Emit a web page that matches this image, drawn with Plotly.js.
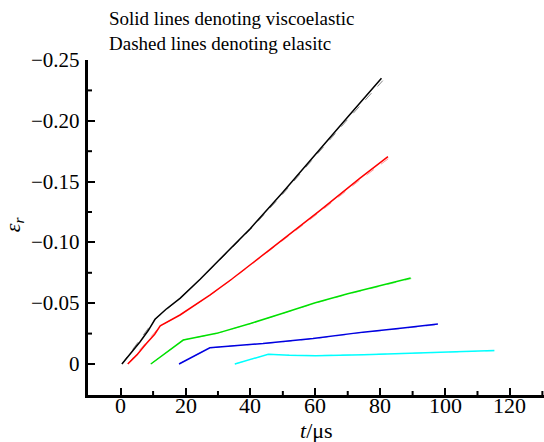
<!DOCTYPE html>
<html>
<head>
<meta charset="utf-8">
<script src="https://cdn.plot.ly/plotly-3.0.1.min.js"></script>
<style>html,body{margin:0;padding:0;background:#fff}#chart{width:544px;height:442px}</style>
</head>
<body>
<div id="chart"></div>
<script>
// Solid (viscoelastic) curves
const blackX = [0.4, 3, 6, 8.5, 10.6, 14, 18.3, 24.5, 30, 40, 50, 60, 70, 80.4];
const blackY = [0, -0.0085, -0.0183, -0.0275, -0.0368, -0.0450, -0.0540, -0.0697, -0.0845, -0.1115, -0.1412, -0.1725, -0.2032, -0.2349];
const redX = [2.2, 5, 8, 10.5, 12.2, 18.3, 27.5, 34.2, 45, 55, 61.4, 73.7, 82.4];
const redY = [0, -0.0075, -0.0170, -0.0245, -0.0313, -0.0403, -0.0567, -0.0697, -0.0920, -0.1128, -0.1261, -0.1527, -0.1705];
const greenX = [9.3, 19.3, 29.6, 40, 50, 60, 70, 80, 89.4];
const greenY = [0, -0.0197, -0.0252, -0.0333, -0.0418, -0.0503, -0.0578, -0.0643, -0.0707];
const blueX = [18, 27.5, 35, 43.9, 59.3, 74.7, 87, 97.8];
const blueY = [0, -0.0133, -0.0150, -0.0168, -0.0209, -0.0262, -0.0296, -0.0328];
const cyanX = [35.2, 45.5, 52, 60, 75, 90, 115.2];
const cyanY = [0, -0.0080, -0.0072, -0.0068, -0.0077, -0.0090, -0.0110];
// Dashed (elastic) curves, nearly coincident
const blackEX = [0.4, 10.6, 18.3, 24.5, 30, 40, 50, 60, 70, 80.8];
const blackEY = [0, -0.0368, -0.0540, -0.0695, -0.0840, -0.1105, -0.1398, -0.1708, -0.2012, -0.2330];
const redEX = [2.2, 12.2, 18.3, 27.5, 34.2, 45, 55, 61.4, 73.7, 82.6];
const redEY = [0, -0.0313, -0.0403, -0.0565, -0.0693, -0.0912, -0.1117, -0.1250, -0.1512, -0.1690];
const greenEX = [9.3, 19.3, 29.6, 40, 50, 60, 70, 80, 89.6];
const greenEY = [0, -0.0197, -0.0252, -0.0332, -0.0416, -0.0500, -0.0574, -0.0639, -0.0702];
const blueEX = [18, 27.5, 35, 43.9, 59.3, 74.7, 87, 98.2];
const blueEY = [0, -0.0133, -0.0150, -0.0167, -0.0207, -0.0259, -0.0293, -0.0325];
const cyanEX = [35.2, 45.5, 52, 60, 75, 90, 115.6];
const cyanEY = [0, -0.0080, -0.0073, -0.0070, -0.0078, -0.0090, -0.0108];

const xTickVals = [0, 20, 40, 60, 80, 100, 120];
const xTickText = ['0', '20', '40', '60', '80', '100', '120'];
const xMinorVals = [10, 30, 50, 70, 90, 110, 130];
const yTickVals = [-0.25, -0.20, -0.15, -0.10, -0.05, 0];
const yTickText = ['\u22120.25', '\u22120.20', '\u22120.15', '\u22120.10', '\u22120.05', '0'];
const yMinorVals = [-0.225, -0.175, -0.125, -0.075, -0.025];
const noteLines = ['Solid lines denoting viscoelastic', 'Dashed lines denoting elasitc'];
const xTitle = '<i>t</i>/\u03bcs';
const yTitle = '<i>\u03b5<sub>r</sub></i>';

const font = "Liberation Serif";
const plotW = 456, plotH = 335, minorLen = 4;

function solid(x, y, c) {
  return {x: x, y: y, type: 'scatter', mode: 'lines', line: {color: c, width: 1.5}, hoverinfo: 'skip'};
}
function dashed(x, y, c) {
  return {x: x, y: y, type: 'scatter', mode: 'lines', line: {color: c, width: 1, dash: 'dash'}, hoverinfo: 'skip'};
}

const data = [
  dashed(blackEX, blackEY, '#888888'),
  dashed(redEX, redEY, '#ff9a9a'),
  dashed(greenEX, greenEY, '#90f090'),
  dashed(blueEX, blueEY, '#9a9af0'),
  dashed(cyanEX, cyanEY, '#a0ffff'),
  solid(blackX, blackY, '#000000'),
  solid(redX, redY, '#ff0000'),
  solid(greenX, greenY, '#00e000'),
  solid(blueX, blueY, '#0000e0'),
  solid(cyanX, cyanY, '#00ffff')
];

// minor ticks (inside) as short line shapes at the minor tick values
const shapes = xMinorVals.map(v => ({type: 'line', xref: 'x', yref: 'paper', x0: v, x1: v, y0: 0, y1: minorLen / plotH,
  line: {color: '#000', width: 2}})).concat(
  yMinorVals.map(v => ({type: 'line', xref: 'paper', yref: 'y', x0: 0, x1: minorLen / plotW, y0: v, y1: v,
  line: {color: '#000', width: 2}})));

// tick labels and titles as annotations placed on the axes' own scales
const annotations = [];
xTickVals.forEach((v, i) => annotations.push({text: xTickText[i], xref: 'x', yref: 'paper', x: v, y: -10 / plotH,
  xanchor: 'center', yanchor: 'middle', showarrow: false, font: {family: font, size: 22, color: '#000'}}));
yTickVals.forEach((v, i) => annotations.push({text: yTickText[i], xref: 'paper', yref: 'y', x: -6 / plotW, y: v,
  xanchor: 'right', yanchor: 'middle', showarrow: false, font: {family: font, size: 21, color: '#000'}}));
annotations.push({text: xTitle, xref: 'paper', yref: 'paper', x: 0.5, y: -35 / plotH, xanchor: 'center', yanchor: 'middle',
  showarrow: false, font: {family: font, size: 22, color: '#000'}});
annotations.push({text: yTitle, xref: 'paper', yref: 'paper', x: -74 / plotW, y: 0.51, xanchor: 'center', yanchor: 'middle',
  textangle: -90, showarrow: false, font: {family: font, size: 22, color: '#000'}});
noteLines.forEach((t, i) => annotations.push({text: t, xref: 'paper', yref: 'paper', x: 19 / plotW, y: (377 - 26 * i) / plotH,
  xanchor: 'left', yanchor: 'middle', showarrow: false, font: {family: font, size: 19, color: '#000'}}));

const layout = {
  width: 544, height: 442,
  margin: {l: 88, r: 0, t: 60, b: 47, pad: 0},
  paper_bgcolor: '#fff', plot_bgcolor: '#fff',
  showlegend: false,
  font: {family: font, color: '#000', size: 20},
  xaxis: {
    range: [-10.06, 130.5],
    tickmode: 'array', tickvals: xTickVals,
    ticks: 'inside', ticklen: 7, tickwidth: 2, tickcolor: '#000',
    showticklabels: false,
    showline: true, linecolor: '#000', linewidth: 2.5,
    showgrid: false, zeroline: false
  },
  yaxis: {
    range: [0.0255, -0.25],
    tickmode: 'array', tickvals: yTickVals,
    ticks: 'inside', ticklen: 7, tickwidth: 2, tickcolor: '#000',
    showticklabels: false,
    showline: true, linecolor: '#000', linewidth: 2.5,
    showgrid: false, zeroline: false
  },
  shapes: shapes,
  annotations: annotations
};

Plotly.newPlot('chart', data, layout, {displayModeBar: false});
</script>
</body>
</html>
